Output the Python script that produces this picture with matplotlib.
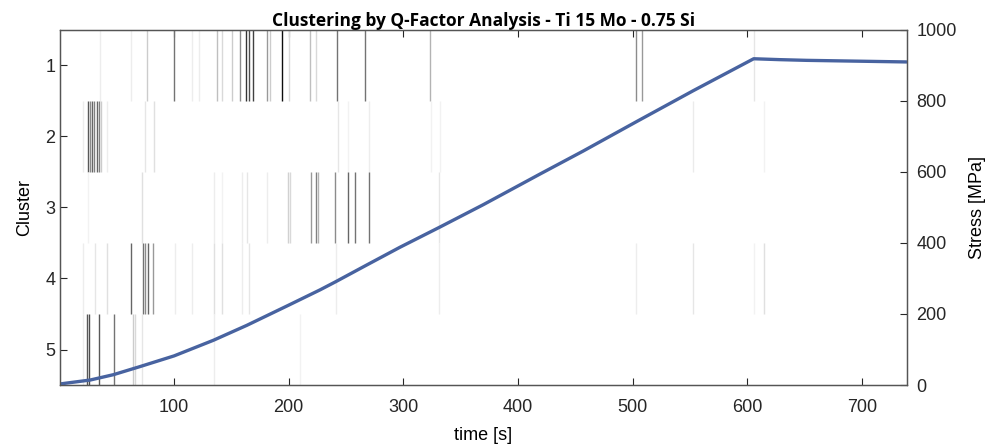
import matplotlib
matplotlib.use("Agg")
import matplotlib.pyplot as plt
import numpy as np
from matplotlib import font_manager

names = {f.name for f in font_manager.fontManager.ttflist}
FONT = "Liberation Sans Narrow" if "Liberation Sans Narrow" in names else "Liberation Sans"
plt.rcParams['font.family'] = [FONT, 'DejaVu Sans']

# ---- data ----
title = "Clustering by Q-Factor Analysis - Ti 15 Mo - 0.75 Si"
clusters = [1, 2, 3, 4, 5]

c1_time = [35.5, 62.5, 76.7, 100, 116, 122, 137.7, 141.6, 150.3, 157.5, 162.5, 165.6, 168.6,
           180.8, 183.7, 193.9, 200, 218.6, 223.8, 241.8, 266.8, 323.2, 502.5, 507.8, 605.7]
c1_gray = [0.93, 0.93, 0.8, 0.45, 0.93, 0.93, 0.75, 0.85, 0.8, 0.55, 0.2, 0.3, 0.25,
           0.6, 0.8, 0.05, 0.85, 0.75, 0.85, 0.45, 0.45, 0.7, 0.55, 0.6, 0.9]

c2_time = [20.4, 25.3, 26.8, 28.8, 30.5, 32.6, 34.6, 36.5, 41.3, 74.7, 82.6, 243.3, 252,
           270.3, 324, 332, 552.8, 614.4]
c2_gray = [0.93, 0.35, 0.55, 0.4, 0.5, 0.4, 0.5, 0.8, 0.93, 0.9, 0.88, 0.9, 0.95,
           0.93, 0.95, 0.95, 0.92, 0.95]

c3_time = [25.3, 71.8, 134.9, 142.1, 159, 163.9, 180.8, 199.1, 201.5, 219.2, 223.8, 225.3,
           240.4, 251.4, 257.8, 270, 331.3]
c3_gray = [0.95, 0.88, 0.93, 0.95, 0.93, 0.9, 0.93, 0.82, 0.85, 0.6, 0.5, 0.7,
           0.55, 0.4, 0.45, 0.45, 0.9]

c4_time = [20.4, 31.1, 41.3, 62.2, 73.2, 74.7, 77, 82, 100.9, 115.4, 134.9, 141.6, 159,
           165.6, 241.2, 331.3, 502.5, 552.8, 605.7, 614.6]
c4_gray = [0.93, 0.9, 0.88, 0.4, 0.45, 0.55, 0.4, 0.6, 0.93, 0.93, 0.88, 0.88, 0.93,
           0.9, 0.93, 0.93, 0.93, 0.9, 0.95, 0.88]

c5_time = [20.4, 23.9, 25.9, 34.6, 48, 64.5, 66, 71.8, 134.9, 209.9]
c5_gray = [0.93, 0.35, 0.3, 0.35, 0.45, 0.8, 0.85, 0.9, 0.93, 0.95]

stress_time = [0.6, 26.8, 47, 70.4, 100, 134.3, 163.4, 200, 227.3, 240.4, 268, 297,
               331.3, 369.7, 419, 456.8, 503.4, 552.8, 605.5, 628, 651.6, 700, 738.8]
stress_mpa = [3, 14, 29, 52, 82, 126, 168, 225, 268, 290, 338, 388,
              444, 508, 594, 659, 742, 829, 919, 916.5, 914.5, 912, 910]

# ---- plot ----
fig = plt.figure(figsize=(9.95, 4.47), dpi=100)
ax = fig.add_axes([0.0603, 0.1387, 0.8510, 0.7942])

for c, tt, gg in zip(clusters, [c1_time, c2_time, c3_time, c4_time, c5_time],
                     [c1_gray, c2_gray, c3_gray, c4_gray, c5_gray]):
    cols = [(g, g, g) for g in gg]
    ax.vlines(tt, c - 0.5, c + 0.5, colors=cols, linewidth=1.0)

ax.set_xlim(0.5, 739)
ax.set_ylim(5.5, 0.5)
ax.set_yticks(clusters)
ax.set_xticks([100, 200, 300, 400, 500, 600, 700])
ax.set_ylabel("Cluster", fontsize=13, labelpad=9)
ax.set_xlabel("time [s]", fontsize=13, labelpad=8)
ax.tick_params(axis='both', direction='in', labelsize=13, length=5, width=0.8,
               colors='#262626', top=True)
ax.tick_params(axis='x', pad=10)
for s in ax.spines.values():
    s.set_color('#555555')
    s.set_linewidth(0.9)

ax2 = ax.twinx()
ax2.plot(stress_time, stress_mpa, color='#4863a0', linewidth=2.4,
         solid_capstyle='round', solid_joinstyle='round')
ax2.set_ylim(0, 1000)
ax2.set_yticks([0, 200, 400, 600, 800, 1000])
ax2.set_ylabel("Stress [MPa]", fontsize=13, labelpad=9)
ax2.tick_params(axis='y', direction='in', labelsize=13, length=5, width=0.8,
                colors='#262626', pad=7)
for s in ax2.spines.values():
    s.set_color('#555555')
    s.set_linewidth(0.9)

ax.set_title(title, fontsize=12.5, fontweight='bold', pad=3, family=['Open Sans', 'DejaVu Sans'])

fig.savefig("out.png", dpi=100)
